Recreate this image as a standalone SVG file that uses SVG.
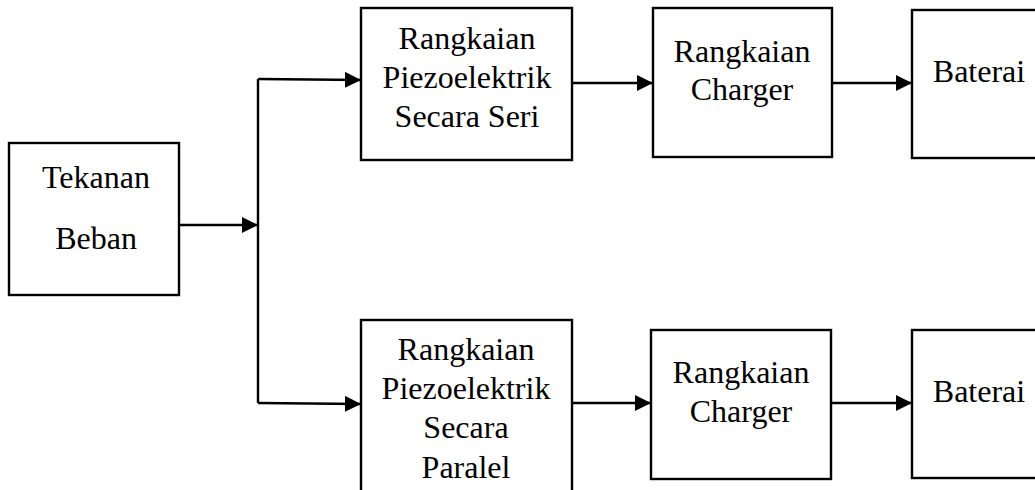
<svg xmlns="http://www.w3.org/2000/svg" width="1035" height="490" viewBox="0 0 1035 490">
<style>
.box{fill:#fff;stroke:#000;stroke-width:2.4}
.t{font-family:"Liberation Serif","Times New Roman",serif;font-size:32px;fill:#000;text-anchor:middle}
.c{fill:none;stroke:#000;stroke-width:2.4}
</style>
<defs>
<marker id="ah" markerUnits="userSpaceOnUse" markerWidth="16" markerHeight="16" refX="16" refY="8" orient="auto">
<path d="M0,0 L16,8 L0,16 Z" fill="#000"/>
</marker>
</defs>
<rect width="1035" height="490" fill="#fff"/>
<g id="connectors">
<line class="c" x1="179" y1="225" x2="258" y2="225" marker-end="url(#ah)"/>
<polyline class="c" points="258,79 258,403"/>
<polyline class="c" points="258,79 361,80" marker-end="url(#ah)"/>
<polyline class="c" points="258,403 361,404" marker-end="url(#ah)"/>
<line class="c" x1="572" y1="83" x2="653" y2="83" marker-end="url(#ah)"/>
<line class="c" x1="832" y1="83" x2="912" y2="83" marker-end="url(#ah)"/>
<line class="c" x1="572" y1="403" x2="651" y2="403" marker-end="url(#ah)"/>
<line class="c" x1="831" y1="403" x2="912" y2="403" marker-end="url(#ah)"/>
</g>
<g id="tekanan">
<rect class="box" x="9" y="143" width="170" height="152"/>
<text class="t" x="96" y="188">Tekanan</text>
<text class="t" x="96" y="249">Beban</text>
</g>
<g id="piezo-seri">
<rect class="box" x="361" y="8" width="211" height="152"/>
<text class="t" x="467" y="49">Rangkaian</text>
<text class="t" x="467" y="88">Piezoelektrik</text>
<text class="t" x="467" y="127">Secara Seri</text>
</g>
<g id="charger-top">
<rect class="box" x="653" y="8" width="179" height="149"/>
<text class="t" x="742" y="62">Rangkaian</text>
<text class="t" x="742" y="100">Charger</text>
</g>
<g id="baterai-top">
<rect class="box" x="912" y="10" width="135" height="148"/>
<text class="t" x="979" y="82">Baterai</text>
</g>
<g id="piezo-paralel">
<rect class="box" x="361" y="320" width="211" height="180"/>
<text class="t" x="466" y="360">Rangkaian</text>
<text class="t" x="466" y="399">Piezoelektrik</text>
<text class="t" x="466" y="438">Secara</text>
<text class="t" x="466" y="478">Paralel</text>
</g>
<g id="charger-bottom">
<rect class="box" x="651" y="330" width="180" height="149"/>
<text class="t" x="741" y="383">Rangkaian</text>
<text class="t" x="741" y="422">Charger</text>
</g>
<g id="baterai-bottom">
<rect class="box" x="912" y="330" width="135" height="148"/>
<text class="t" x="979" y="402">Baterai</text>
</g>
</svg>
